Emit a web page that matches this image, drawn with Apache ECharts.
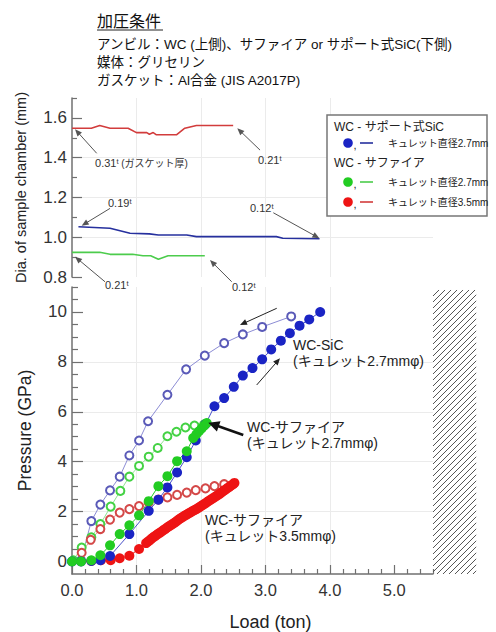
<!DOCTYPE html>
<html><head><meta charset="utf-8">
<script src="https://cdn.jsdelivr.net/npm/echarts@6/dist/echarts.min.js"></script>
<style>html,body{margin:0;padding:0;background:#fff}#c{width:496px;height:632px}</style>
</head><body><div id="c"></div>
<script>
// ---------- data ----------
const loadTicks = [0, 1, 2, 3, 4, 5];
const loadMinor = [0.2,0.4,0.6,0.8,1.2,1.4,1.6,1.8,2.2,2.4,2.6,2.8,3.2,3.4,3.6,3.8,4.2,4.4,4.6,4.8,5.2,5.4,5.6];
const pressureTicks = [0, 2, 4, 6, 8, 10];
const pressureMinor = [0.5,1,1.5,2.5,3,3.5,4.5,5,5.5,6.5,7,7.5,8.5,9,9.5,10.5,11];
const diaTicks = [0.8, 1.0, 1.2, 1.4, 1.6];
const diaMinor = [0.9, 1.1, 1.3, 1.5, 1.7];

// sample chamber diameter (mm) vs load (ton)
const diaSap35 = [[0,1.548],[0.3,1.548],[0.43,1.562],[0.59,1.548],[0.87,1.548],[1.0,1.526],[1.16,1.526],[1.2,1.518],[1.26,1.526],[1.31,1.515],[1.62,1.515],[1.75,1.548],[1.93,1.562],[2.5,1.562]];
const diaSiC = [[0.1,1.053],[0.59,1.045],[0.9,1.02],[1.2,1.017],[1.34,1.011],[1.78,1.011],[1.93,1.003],[3.17,1.003],[3.27,0.995],[3.84,0.992]];
const diaSap27 = [[0,0.924],[0.43,0.924],[0.59,0.914],[0.94,0.914],[1.1,0.907],[1.22,0.907],[1.34,0.889],[1.49,0.907],[2.06,0.907]];

// pressure (GPa) vs load (ton)
const sicLoad = [[0,0],[0.14,0],[0.3,0.02],[0.44,0.05],[0.59,0.22],[0.89,1.1],[1.19,2.03],[1.34,2.48],[1.48,2.97],[1.63,3.57],[1.78,4.18],[1.92,4.85],[2.07,5.5],[2.21,6.22],[2.36,6.55],[2.51,7.0],[2.65,7.45],[2.8,7.75],[2.95,8.1],[3.09,8.5],[3.24,8.85],[3.38,9.15],[3.53,9.45],[3.68,9.7],[3.85,10.0]];
const sicUnload = [[0.14,0.05],[0.3,1.62],[0.44,2.28],[0.59,2.85],[0.74,3.4],[0.89,4.25],[1.04,4.85],[1.18,5.62],[1.48,6.68],[1.77,7.7],[2.06,8.25],[2.36,8.75],[2.65,9.1],[2.95,9.4],[3.4,9.82]];
const sap27Load = [[0,0],[0.14,0],[0.3,0.05],[0.44,0.25],[0.59,0.65],[0.74,1.1],[0.89,1.45],[1.04,1.85],[1.19,2.42],[1.34,3.02],[1.48,3.42],[1.63,4.02],[1.78,4.42],[1.88,4.95],[1.93,5.1],[1.97,5.22],[2.01,5.33],[2.05,5.44],[2.09,5.55]];
const sap27Unload = [[0.02,0.05],[0.15,0.56],[0.3,0.97],[0.44,1.5],[0.6,2.2],[0.75,2.83],[0.89,3.4],[1.04,3.83],[1.19,4.2],[1.33,4.55],[1.48,5.02],[1.62,5.2],[1.76,5.37],[1.9,5.45],[2.05,5.5]];
const sap35Load = [[0.3,0.02],[0.45,0.05],[0.6,0.05],[0.74,0.13],[0.89,0.23],[1.04,0.5],[1.15,0.74],[1.18,0.8],[1.21,0.86],[1.24,0.93],[1.27,0.99],[1.3,1.04],[1.33,1.1],[1.36,1.15],[1.39,1.2],[1.42,1.26],[1.45,1.31],[1.48,1.37],[1.51,1.42],[1.54,1.47],[1.57,1.52],[1.6,1.57],[1.63,1.63],[1.66,1.69],[1.69,1.74],[1.72,1.79],[1.75,1.84],[1.78,1.88],[1.81,1.93],[1.84,1.97],[1.87,2.02],[1.9,2.06],[1.93,2.1],[1.96,2.15],[1.99,2.2],[2.02,2.25],[2.05,2.3],[2.08,2.35],[2.11,2.41],[2.14,2.46],[2.17,2.51],[2.2,2.56],[2.23,2.61],[2.26,2.66],[2.29,2.71],[2.32,2.77],[2.35,2.83],[2.38,2.88],[2.41,2.94],[2.44,2.99],[2.47,3.05],[2.5,3.1],[2.52,3.15]];
const sap35Unload = [[0.15,0.35],[0.29,0.87],[0.44,1.3],[0.59,1.68],[0.74,1.96],[0.89,2.1],[1.04,2.22],[1.19,2.37],[1.34,2.48],[1.48,2.57],[1.63,2.67],[1.78,2.76],[1.92,2.86],[2.07,2.93],[2.21,3.02],[2.36,3.1]];

const headerLines = ['アンビル：WC (上側)、サファイア or サポート式SiC(下側)', '媒体：グリセリン', 'ガスケット：Al合金 (JIS A2017P)'];

// ---------- chart ----------
const FONT = "'Liberation Sans','Noto Sans CJK JP',sans-serif";
const AXC = '#707070';
const GRIDC = '#ebebeb';
const C = {
  blue: '#1a24c4', blueOpen: '#5a5ab8', blueOpenLine: '#8c8cd4', blueDia: '#26309e',
  green: '#22cc22', greenOpen: '#44d244', greenOpenLine: '#92e292', greenDia: '#4ccc4c',
  red: '#ee1414', redOpen: '#d44848', redOpenLine: '#e29a9a', redDia: '#d23c3c'
};

const chart = echarts.init(document.getElementById('c'), null, {renderer: 'svg'});

function tickAxisCommon(extra) { return extra; }

const option = {
  animation: false,
  backgroundColor: '#fff',
  textStyle: {fontFamily: FONT},
  grid: [
    {left: 72, top: 98, width: 361, height: 179},
    {left: 72, top: 287, width: 361, height: 287}
  ],
  xAxis: [
    {gridIndex: 0, type: 'value', min: 0, max: 5.6, interval: 1,
     axisLine: {show: false, onZero: false}, axisTick: {show: false, customValues: loadTicks},
     axisLabel: {show: false},
     splitLine: {show: true, showMinLine: false, showMaxLine: false, lineStyle: {color: GRIDC}}},
    {gridIndex: 1, type: 'value', position: 'bottom', min: 0, max: 5.6, interval: 1,
     axisLine: {onZero: false, lineStyle: {color: AXC, width: 1.5}},
     axisTick: {inside: true, length: 9, customValues: loadTicks, lineStyle: {color: AXC, width: 1.2}},
     axisLabel: {customValues: loadTicks, formatter: v => v.toFixed(1), fontSize: 16.5, color: '#333', margin: 8, fontFamily: FONT},
     splitLine: {show: true, showMinLine: false, showMaxLine: false, lineStyle: {color: GRIDC}},
     name: 'Load (ton)', nameLocation: 'middle', nameGap: 39,
     nameTextStyle: {fontSize: 18, color: '#222', fontFamily: FONT, padding: [0, 0, 0, 36]}},
    {gridIndex: 1, type: 'value', position: 'bottom', min: 0, max: 5.6, interval: 1,
     axisLine: {show: false, onZero: false},
     axisTick: {inside: true, length: 5, customValues: loadMinor, lineStyle: {color: AXC, width: 1.2}},
     axisLabel: {show: false}, splitLine: {show: false}}
  ],
  yAxis: [
    {gridIndex: 0, type: 'value', position: 'left', min: 0.8, max: 1.7, interval: 0.2,
     axisLine: {show: true, onZero: false, lineStyle: {color: AXC, width: 1.5}},
     axisTick: {show: true, inside: true, length: 10, customValues: diaTicks, lineStyle: {color: AXC, width: 1.2}},
     axisLabel: {customValues: diaTicks, formatter: v => v.toFixed(1), fontSize: 17, color: '#333', margin: 5, fontFamily: FONT},
     splitLine: {show: true, showMinLine: false, showMaxLine: false, lineStyle: {color: GRIDC}},
     name: 'Dia. of sample chamber (mm)', nameLocation: 'middle', nameGap: 44,
     nameTextStyle: {fontSize: 14.5, color: '#222', fontFamily: FONT}},
    {gridIndex: 0, type: 'value', position: 'left', min: 0.8, max: 1.7, interval: 0.2,
     axisLine: {show: false, onZero: false},
     axisTick: {show: true, inside: true, length: 5, customValues: diaMinor, lineStyle: {color: AXC, width: 1.2}},
     axisLabel: {show: false}, splitLine: {show: false}},
    {gridIndex: 1, type: 'value', position: 'left', min: -0.5, max: 11,
     axisLine: {show: true, onZero: false, lineStyle: {color: AXC, width: 1.5}},
     axisTick: {show: true, inside: true, length: 11, customValues: pressureTicks, lineStyle: {color: AXC, width: 1.2}},
     axisLabel: {customValues: pressureTicks, fontSize: 17, color: '#333', margin: 5, fontFamily: FONT},
     splitLine: {show: true, showMinLine: false, showMaxLine: false, lineStyle: {color: GRIDC}},
     name: 'Pressure (GPa)', nameLocation: 'middle', nameGap: 38,
     nameTextStyle: {fontSize: 17.5, color: '#222', fontFamily: FONT}},
    {gridIndex: 1, type: 'value', position: 'left', min: -0.5, max: 11,
     axisLine: {show: false, onZero: false},
     axisTick: {show: true, inside: true, length: 6, customValues: pressureMinor, lineStyle: {color: AXC, width: 1.2}},
     axisLabel: {show: false}, splitLine: {show: false}}
  ],
  series: [
    {type: 'line', xAxisIndex: 0, yAxisIndex: 0, data: diaSap35, showSymbol: false, lineStyle: {color: C.redDia, width: 1.6}, silent: true},
    {type: 'line', xAxisIndex: 0, yAxisIndex: 0, data: diaSiC, showSymbol: false, lineStyle: {color: C.blueDia, width: 1.6}, silent: true},
    {type: 'line', xAxisIndex: 0, yAxisIndex: 0, data: diaSap27, showSymbol: false, lineStyle: {color: C.greenDia, width: 1.6}, silent: true},
    {type: 'line', xAxisIndex: 1, yAxisIndex: 2, data: sicUnload, symbol: 'emptyCircle', symbolSize: 8,
     itemStyle: {color: C.blueOpen, borderWidth: 1.2}, lineStyle: {color: C.blueOpenLine, width: 1}, silent: true},
    {type: 'line', xAxisIndex: 1, yAxisIndex: 2, data: sap27Unload, symbol: 'emptyCircle', symbolSize: 8,
     itemStyle: {color: C.greenOpen, borderWidth: 1.2}, lineStyle: {color: C.greenOpenLine, width: 1}, silent: true},
    {type: 'line', xAxisIndex: 1, yAxisIndex: 2, data: sap35Unload, symbol: 'emptyCircle', symbolSize: 8,
     itemStyle: {color: C.redOpen, borderWidth: 1.2}, lineStyle: {color: C.redOpenLine, width: 1}, silent: true},
    {type: 'line', xAxisIndex: 1, yAxisIndex: 2, data: sap35Load, symbol: 'circle', symbolSize: 10,
     itemStyle: {color: C.red}, lineStyle: {color: C.red, width: 1}, silent: true},
    {type: 'line', xAxisIndex: 1, yAxisIndex: 2, data: sicLoad, symbol: 'circle', symbolSize: 10,
     itemStyle: {color: C.blue}, lineStyle: {color: '#4a52c8', width: 1}, silent: true},
    {type: 'line', xAxisIndex: 1, yAxisIndex: 2, data: sap27Load, symbol: 'circle', symbolSize: 10,
     itemStyle: {color: C.green}, lineStyle: {color: C.green, width: 1}, silent: true}
  ]
};
chart.setOption(option);

// ---------- annotations (positioned through axis scales) ----------
const PT = v => chart.convertToPixel({seriesIndex: 0}, v);   // top chart (load, mm)
const PB = v => chart.convertToPixel({seriesIndex: 3}, v);   // bottom chart (load, GPa)
const G = [];
function baseText(x, y, text, size, extra) {
  G.push({type: 'text', x: x, y: y, z: 20, style: Object.assign({
    text: text, fontSize: size, fontFamily: FONT, fill: '#222',
    textAlign: 'left', textVerticalAlign: 'middle', align: 'left', verticalAlign: 'middle'}, extra || {})});
}
function supText(pt, num, extra) {
  const rich = {
    n: {fontSize: 11, fontFamily: FONT, fill: '#333', color: '#333'},
    s: {fontSize: 7.5, fontFamily: FONT, fill: '#333', color: '#333', verticalAlign: 'top'},
    p: {fontSize: 10, fontFamily: FONT, fill: '#333', color: '#333'}
  };
  G.push({type: 'text', x: pt[0], y: pt[1], z: 20, style: {
    text: '{n|' + num + '}{s|t}' + (extra ? '{p| ' + extra + '}' : ''), rich: rich,
    textAlign: 'left', textVerticalAlign: 'middle', align: 'left', verticalAlign: 'middle'}});
}
function arrow(p1, p2, w, hl, hw, color) {
  const dx = p2[0] - p1[0], dy = p2[1] - p1[1], L = Math.hypot(dx, dy), ux = dx / L, uy = dy / L;
  const bx = p2[0] - ux * hl, by = p2[1] - uy * hl;
  G.push({type: 'line', z: 20, shape: {x1: p1[0], y1: p1[1], x2: bx + ux, y2: by + uy}, style: {stroke: color, lineWidth: w}});
  G.push({type: 'polygon', z: 20, shape: {points: [[p2[0], p2[1]], [bx - uy * hw, by + ux * hw], [bx + uy * hw, by - ux * hw]]}, style: {fill: color}});
}

// header
baseText(97, 21, '加圧条件', 16, {fill: '#111'});
G.push({type: 'line', z: 20, shape: {x1: 97, y1: 30, x2: 163, y2: 30}, style: {stroke: '#222', lineWidth: 1}});
baseText(97, 44, headerLines[0], 13.5, {fill: '#111'});
baseText(97, 62, headerLines[1], 13.5, {fill: '#111'});
baseText(97, 80, headerLines[2], 13.5, {fill: '#111'});

// top chart notes
const thin = '#555';
supText(PT([0.357, 1.373]), '0.31', '(ガスケット厚)');
arrow(PT([0.383, 1.422]), PT([0.047, 1.543]), 1, 7, 3, thin);
supText(PT([2.885, 1.388]), '0.21');
arrow(PT([2.917, 1.438]), PT([2.564, 1.548]), 1, 7, 3, thin);
supText(PT([0.558, 1.172]), '0.19');
arrow(PT([0.59, 1.145]), PT([0.15, 1.058]), 1, 7, 3, thin);
supText(PT([2.761, 1.147]), '0.12');
arrow(PT([3.123, 1.123]), PT([3.837, 0.995]), 1, 7, 3, thin);
supText(PT([0.512, 0.760]), '0.21');
arrow(PT([0.512, 0.776]), PT([0.047, 0.902]), 1, 7, 3, thin);
supText(PT([2.482, 0.750]), '0.12');
arrow(PT([2.478, 0.776]), PT([2.141, 0.885]), 1, 7, 3, thin);

// bottom chart notes
const pS = PB([3.428, 8.997]);
baseText(pS[0], pS[1], 'WC-SiC\n(キュレット2.7mmφ)', 14, {lineHeight: 16, textVerticalAlign: 'top', verticalAlign: 'top'});
const pA = PB([2.715, 5.712]);
baseText(pA[0], pA[1], 'WC-サファイア\n(キュレット2.7mmφ)', 14, {lineHeight: 16, textVerticalAlign: 'top', verticalAlign: 'top'});
const pB = PB([2.063, 1.986]);
baseText(pB[0], pB[1], 'WC-サファイア\n(キュレット3.5mmφ)', 14, {lineHeight: 16, textVerticalAlign: 'top', verticalAlign: 'top'});
arrow(PB([3.176, 10.147]), PB([2.606, 9.478]), 1, 7, 3, '#222');
arrow(PB([2.865, 7.074]), PB([3.227, 8.143]), 1, 7, 3, '#222');
arrow(PB([2.657, 5.07]), PB([2.115, 5.563]), 2.5, 11, 5.5, '#111');

// hatched region beyond the load limit
const h0 = PB([5.6, 10.88]), h1 = PB([6.27, -0.5]);
const X0 = h0[0], Y0 = h0[1], X1 = h1[0], Y1 = h1[1];
for (let c = X0 + Y0; c <= X1 + Y1; c += 6) {
  const xa = Math.max(X0, c - Y1), xb = Math.min(X1, c - Y0);
  if (xb > xa) G.push({type: 'line', z: 5, shape: {x1: xa, y1: c - xa, x2: xb, y2: c - xb}, style: {stroke: '#555', lineWidth: 1}});
}

// legend box
G.push({type: 'rect', z: 15, shape: {x: 327, y: 115, width: 160, height: 101}, style: {fill: '#fff', stroke: '#777', lineWidth: 1.5}});
baseText(334, 127, 'WC - サポート式SiC', 12);
baseText(334, 163, 'WC - サファイア', 12);
const rows = [[143, C.blue, C.blueDia, 'キュレット直径2.7mm'], [182, C.green, C.greenDia, 'キュレット直径2.7mm'], [202, C.red, C.redDia, 'キュレット直径3.5mm']];
rows.forEach(r => {
  G.push({type: 'circle', z: 20, shape: {cx: 348, cy: r[0], r: 4.8}, style: {fill: r[1]}});
  baseText(353.5, r[0] + 2, ',', 11);
  G.push({type: 'line', z: 20, shape: {x1: 360, y1: r[0], x2: 373, y2: r[0]}, style: {stroke: r[2], lineWidth: 1.6}});
  baseText(388, r[0], r[3], 10);
});

chart.setOption({graphic: {elements: G}});
</script>
</body></html>
